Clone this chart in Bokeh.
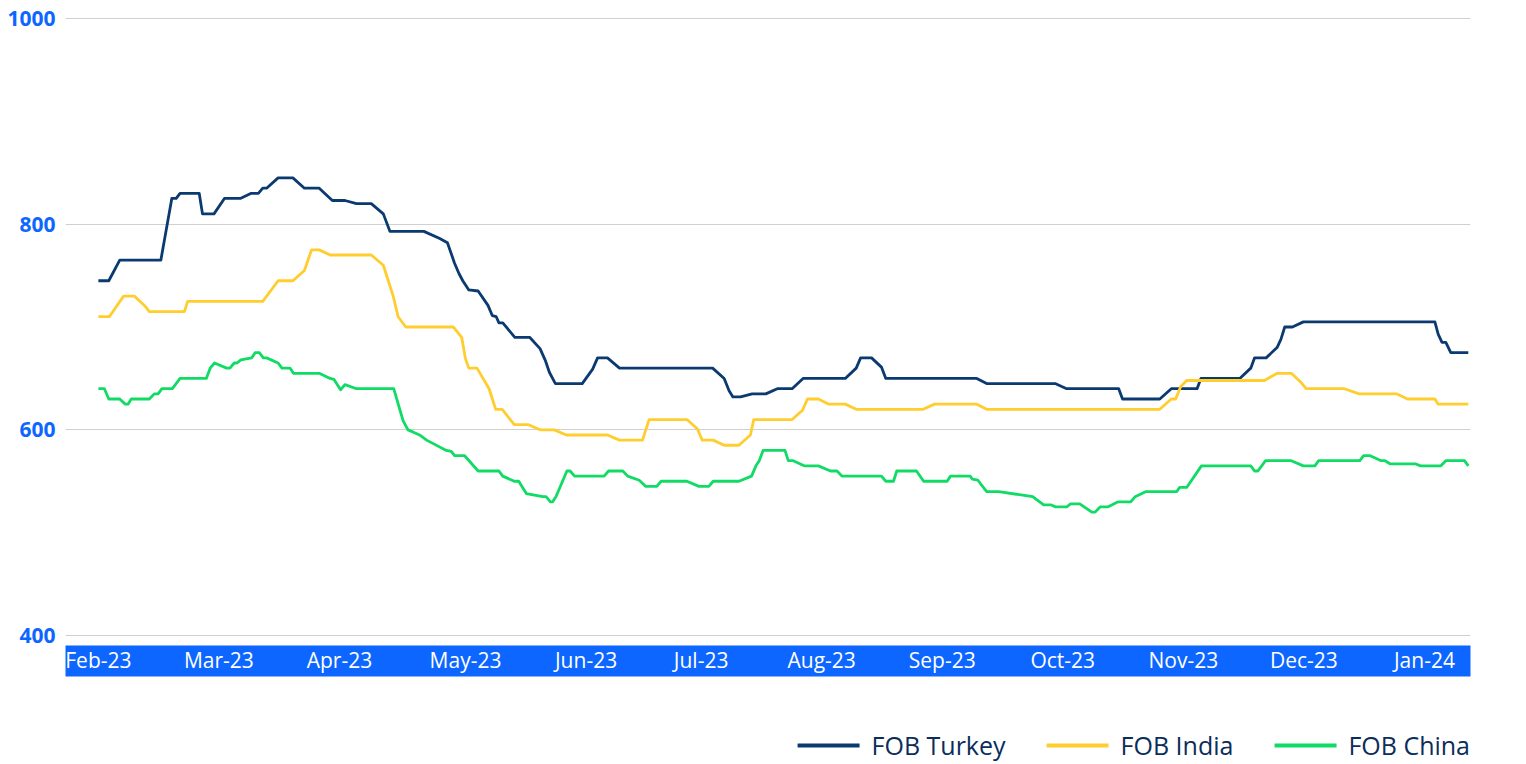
from bokeh.plotting import figure
from bokeh.layouts import column
from bokeh.models import FixedTicker, Legend, LegendItem, Range1d
from bokeh.embed import file_html
from bokeh.resources import INLINE

# x = trading-day index from the start of Feb-23
tick_pos = [0, 22, 44, 67, 89, 110, 132, 154, 176, 198, 220, 242]
tick_labels = ["Feb-23", "Mar-23", "Apr-23", "May-23", "Jun-23", "Jul-23",
               "Aug-23", "Sep-23", "Oct-23", "Nov-23", "Dec-23", "Jan-24"]

turkey_x = [0, 1.9, 3.9, 11.4, 13.4, 14.2, 14.9, 18.4, 19.0, 21.1, 23.0, 25.9, 27.9, 29.2,
            30.0, 30.7, 32.8, 35.5, 37.6, 40.3, 42.7, 45.0, 47.1, 49.8, 52.0, 53.2, 59.4,
            62.3, 63.7, 65.0, 65.8, 66.5, 67.6, 69.3, 71.1, 71.9, 72.6, 73.1, 73.8, 76.0,
            78.7, 80.6, 81.6, 82.3, 83.4, 88.3, 90.2, 91.1, 92.9, 95.1, 112.1, 114.2,
            115.1, 115.8, 117.2, 119.3, 121.8, 123.9, 126.6, 128.6, 136.3, 138.3, 139.1,
            141.1, 142.9, 143.7, 160.3, 162.1, 174.6, 176.7, 186.2, 186.9, 193.7, 195.8,
            200.5, 201.2, 208.3, 210.3, 211.0, 213.1, 215.1, 215.8, 216.5, 217.9, 219.9,
            243.9, 244.5, 245.2, 245.9, 246.8, 250]
turkey_y = [745, 745, 765, 765, 825, 825, 830, 830, 810, 810, 825, 825, 830, 830,
            835, 835, 845, 845, 835, 835, 823, 823, 820, 820, 810, 793, 793,
            786, 782, 762, 752, 745, 736, 735, 721, 711, 710, 704, 704, 690,
            690, 679, 667, 656, 645, 645, 659, 670, 670, 660, 660, 650,
            638, 632, 632, 635, 635, 640, 640, 650, 650, 660, 670,
            670, 661, 650, 650, 645, 645, 640, 640, 630, 630, 640,
            640, 650, 650, 660, 670, 670, 680, 688, 700, 700, 705,
            705, 693, 685, 685, 675, 675]

india_x = [0, 2.0, 4.6, 6.6, 8.4, 9.3, 15.7, 16.3, 30.0, 32.8, 35.5, 37.6, 38.9, 40.3,
           42.3, 49.8, 52.0, 53.8, 54.7, 56.1, 64.8, 66.3, 67.0, 67.6, 69.1, 71.3, 72.5,
           73.7, 75.9, 78.5, 80.6, 83.2, 85.4, 92.9, 95.1, 99.3, 100.5, 107.4, 109.3,
           110.2, 112.2, 114.2, 116.9, 119.0, 119.6, 126.6, 128.5, 129.4, 131.4, 133.3,
           136.3, 138.3, 150.5, 152.6, 160.3, 162.1, 193.7, 195.8, 196.6, 197.5, 198.6,
           212.8, 215.1, 217.7, 219.5, 220.4, 227.4, 230.1, 236.9, 238.9, 243.9, 244.5, 250]
india_y = [710, 710, 730, 730, 721, 715, 715, 725, 725, 745, 745, 755, 775, 775,
           770, 770, 760, 730, 710, 700, 700, 690, 669, 660, 660, 640, 620,
           620, 605, 605, 600, 600, 595, 595, 590, 590, 610, 610, 601,
           590, 590, 585, 585, 595, 610, 610, 619, 630, 630, 625,
           625, 620, 620, 625, 625, 620, 620, 630, 630, 642, 648,
           648, 655, 655, 646, 640, 640, 635, 635, 630, 630, 625, 625]

china_x = [0, 1.1, 1.9, 3.9, 4.9, 5.4, 6.0, 9.3, 10.2, 10.9, 11.6, 13.5, 14.9, 19.7,
           20.4, 21.2, 23.4, 24.0, 24.8, 25.3, 26.0, 28.0, 28.6, 29.4, 30.1, 30.7, 32.8,
           33.5, 35.0, 35.6, 40.3, 42.3, 43.0, 44.2, 45.0, 47.1, 53.9, 55.6, 56.5, 57.4,
           58.6, 59.9, 63.5, 64.4, 65.0, 66.8, 69.3, 73.1, 73.8, 75.9, 76.7, 78.1, 81.1,
           81.7, 82.5, 82.9, 83.5, 85.5, 86.1, 86.9, 92.3, 93.1, 95.7, 96.6, 98.7, 99.9,
           101.9, 102.7, 107.4, 109.6, 111.4, 112.2, 116.9, 119.2, 120.0, 120.6, 121.3,
           125.3, 125.9, 126.8, 128.8, 131.4, 133.6, 134.8, 135.7, 142.9, 143.7, 145.1,
           145.7, 149.3, 150.6, 154.9, 155.5, 159.1, 159.5, 160.5, 162.1, 164.3, 170.5,
           172.5, 173.9, 174.7, 176.7, 177.4, 179.1, 181.3, 181.9, 182.8, 184.2, 186.1,
           188.4, 189.2, 191.2, 196.8, 197.3, 198.6, 201.3, 210.3, 211.0, 211.6, 213.0,
           217.7, 219.9, 222.0, 222.7, 230.2, 230.9, 232.0, 234.1, 234.8, 235.7, 240.3,
           241.3, 245.0, 245.9, 249.3, 250]
china_y = [640, 640, 630, 630, 625, 625, 630, 630, 635, 635, 640, 640, 650, 650,
           660, 665, 660, 660, 665, 665, 668, 670, 675, 675, 670, 670, 665,
           660, 660, 655, 655, 650, 649, 639, 644, 640, 640, 609, 600, 598,
           595, 590, 580, 579, 575, 575, 560, 560, 555, 550, 550, 538, 535,
           535, 530, 530, 535, 560, 560, 555, 555, 560, 560, 555, 551, 545,
           545, 550, 550, 545, 545, 550, 550, 555, 565, 570, 580,
           580, 570, 570, 565, 565, 560, 560, 555, 555, 550, 550,
           560, 560, 550, 550, 555, 555, 552, 551, 540, 540, 535,
           527, 527, 525, 525, 528, 528, 520, 520, 525, 525, 530,
           530, 535, 540, 540, 544, 544, 565, 565, 560, 560, 570,
           570, 565, 565, 570, 570, 575, 575, 570, 570, 567, 567,
           565, 565, 570, 570, 565]

y_ticks = [400, 600, 800, 1000]

series = [("FOB Turkey", turkey_x, turkey_y, "#0A3A70"),
          ("FOB India", india_x, india_y, "#FFCD2E"),
          ("FOB China", china_x, china_y, "#10DB64")]

p = figure(width=1518, height=678, output_backend="svg", toolbar_location=None,
           x_range=Range1d(-6, 250.4), y_range=Range1d(390.3, 1002.9),
           min_border_left=65, min_border_right=45, min_border_top=15, min_border_bottom=33)
p.outline_line_color = None
p.background_fill_color = "white"
p.border_fill_color = "white"

for name, xs, ys, col in series:
    p.line(xs, ys, line_color=col, line_width=2.8, line_join="round")

# grid
p.xgrid.visible = False
p.ygrid.grid_line_color = "#D0D0D0"
p.ygrid.grid_line_width = 1.2

# y axis
p.yaxis.ticker = FixedTicker(ticks=y_ticks)
p.yaxis.axis_line_color = None
p.yaxis.major_tick_line_color = None
p.yaxis.minor_tick_line_color = None
p.yaxis.major_tick_out = 0
p.yaxis.major_label_standoff = 10
p.yaxis.major_label_text_font = "Open Sans"
p.yaxis.major_label_text_font_style = "bold"
p.yaxis.major_label_text_font_size = "21px"
p.yaxis.major_label_text_color = "#0D66FF"

# x axis (blue band)
p.xaxis.ticker = FixedTicker(ticks=tick_pos)
p.xaxis.major_label_overrides = {t: l for t, l in zip(tick_pos, tick_labels)}
p.xaxis.axis_line_color = None
p.xaxis.major_tick_line_color = None
p.xaxis.minor_tick_line_color = None
p.xaxis.major_tick_out = 0
p.xaxis.major_tick_in = 0
p.xaxis.major_label_standoff = 0
p.xaxis.major_label_text_font = "Open Sans"
p.xaxis.major_label_text_font_size = "21px"
p.xaxis.major_label_text_color = "white"
p.xaxis.background_fill_color = "#0D66FF"

# legend strip (separate small figure below the chart; its series lie outside its view)
pl = figure(width=1518, height=84, output_backend="svg", toolbar_location=None,
            x_range=Range1d(1000, 1001), y_range=Range1d(0, 1),
            min_border_left=0, min_border_right=48, min_border_top=0, min_border_bottom=0)
pl.axis.visible = False
pl.grid.visible = False
pl.outline_line_color = None
pl.background_fill_color = "white"
pl.border_fill_color = "white"

items = []
for name, xs, ys, col in series:
    r = pl.line(xs, ys, line_color=col, line_width=4, line_cap="round")
    items.append(LegendItem(label=name, renderers=[r]))

legend = Legend(items=items, orientation="horizontal", location="bottom_right",
                glyph_width=62, glyph_height=28, label_standoff=12, spacing=41,
                padding=0, margin=0, border_line_color=None, background_fill_alpha=0,
                label_text_font="Open Sans", label_text_font_size="25px",
                label_text_color="#0B2D5B")
pl.add_layout(legend, "center")

layout = column(p, pl, spacing=0)
open("out.html", "w").write(file_html(layout, INLINE))
